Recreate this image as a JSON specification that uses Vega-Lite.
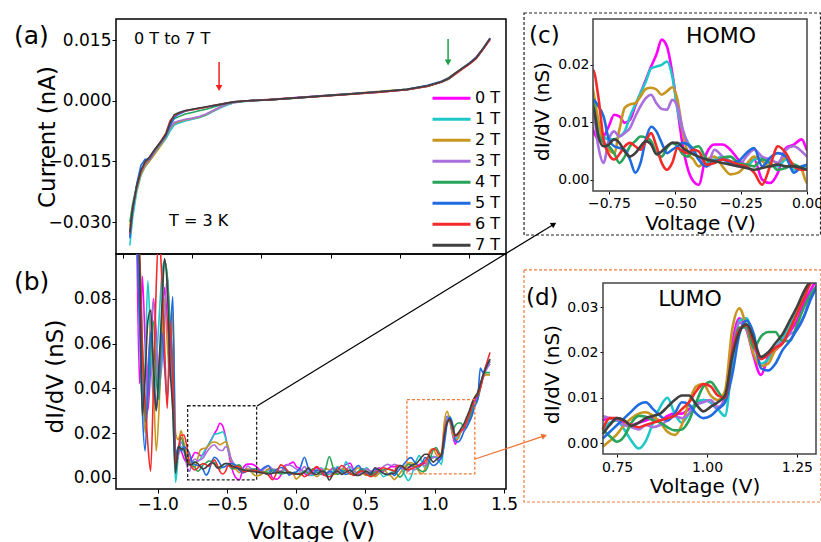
{
"$schema":"https://vega.github.io/schema/vega-lite/v6.json",
"padding":{"left":13,"top":12,"right":0,"bottom":0},
"background":"white",
"config":{
"view":{"stroke":"#000","strokeWidth":1.5},
"font":"DejaVu Sans",
"axis":{"grid":false,"domain":false,"labelFont":"DejaVu Sans","titleFont":"DejaVu Sans","labelColor":"#000","titleColor":"#000","tickColor":"#000","titleFontWeight":"normal","labelFontSize":17,"titleFontSize":23,"tickSize":4,"labelFlush":false,"labelOverlap":false},
"text":{"font":"DejaVu Sans","color":"#000"}
},
"datasets":{
"iv":[
{"v":-1.2,"b":0,"i":-0.0335},{"v":-1.18,"b":0,"i":-0.0275},{"v":-1.15,"b":0,"i":-0.0215},{"v":-1.12,"b":0,"i":-0.0178},{"v":-1.09,"b":0,"i":-0.016},{"v":-1.06,"b":0,"i":-0.0147},{"v":-1.02,"b":0,"i":-0.0128},{"v":-0.98,"b":0,"i":-0.011},{"v":-0.94,"b":0,"i":-0.0092},{"v":-0.91,"b":0,"i":-0.0072},{"v":-0.88,"b":0,"i":-0.0058},{"v":-0.85,"b":0,"i":-0.0054},{"v":-0.8,"b":0,"i":-0.0049},{"v":-0.75,"b":0,"i":-0.0045},{"v":-0.7,"b":0,"i":-0.0041},{"v":-0.65,"b":0,"i":-0.0035},{"v":-0.6,"b":0,"i":-0.0026},{"v":-0.55,"b":0,"i":-0.0017},{"v":-0.5,"b":0,"i":-0.001},{"v":-0.45,"b":0,"i":-0.0005},{"v":-0.35,"b":0,"i":0},{"v":-0.2,"b":0,"i":0.0003},{"v":0,"b":0,"i":0.0008},{"v":0.2,"b":0,"i":0.0013},{"v":0.4,"b":0,"i":0.0017},{"v":0.6,"b":0,"i":0.0021},{"v":0.8,"b":0,"i":0.0027},{"v":0.95,"b":0,"i":0.0036},{"v":1.05,"b":0,"i":0.0046},{"v":1.1,"b":0,"i":0.0054},{"v":1.15,"b":0,"i":0.0067},{"v":1.2,"b":0,"i":0.008},{"v":1.25,"b":0,"i":0.0093},{"v":1.3,"b":0,"i":0.0108},{"v":1.35,"b":0,"i":0.013},{"v":1.4,"b":0,"i":0.0155},
{"v":-1.2,"b":1,"i":-0.0358},{"v":-1.18,"b":1,"i":-0.029},{"v":-1.15,"b":1,"i":-0.0225},{"v":-1.12,"b":1,"i":-0.0185},{"v":-1.09,"b":1,"i":-0.0163},{"v":-1.06,"b":1,"i":-0.015},{"v":-1.02,"b":1,"i":-0.013},{"v":-0.98,"b":1,"i":-0.0112},{"v":-0.94,"b":1,"i":-0.0094},{"v":-0.91,"b":1,"i":-0.0075},{"v":-0.88,"b":1,"i":-0.006},{"v":-0.85,"b":1,"i":-0.0056},{"v":-0.8,"b":1,"i":-0.005},{"v":-0.75,"b":1,"i":-0.0046},{"v":-0.7,"b":1,"i":-0.0042},{"v":-0.65,"b":1,"i":-0.0036},{"v":-0.6,"b":1,"i":-0.0027},{"v":-0.55,"b":1,"i":-0.0018},{"v":-0.5,"b":1,"i":-0.0011},{"v":-0.45,"b":1,"i":-0.0005},{"v":-0.35,"b":1,"i":-0.0001},{"v":-0.2,"b":1,"i":0.0002},{"v":0,"b":1,"i":0.0007},{"v":0.2,"b":1,"i":0.0012},{"v":0.4,"b":1,"i":0.0017},{"v":0.6,"b":1,"i":0.0022},{"v":0.8,"b":1,"i":0.0028},{"v":0.95,"b":1,"i":0.0036},{"v":1.05,"b":1,"i":0.0046},{"v":1.1,"b":1,"i":0.0055},{"v":1.15,"b":1,"i":0.0068},{"v":1.2,"b":1,"i":0.0081},{"v":1.25,"b":1,"i":0.0093},{"v":1.3,"b":1,"i":0.0107},{"v":1.35,"b":1,"i":0.013},{"v":1.4,"b":1,"i":0.0154},
{"v":-1.2,"b":2,"i":-0.031},{"v":-1.18,"b":2,"i":-0.0262},{"v":-1.15,"b":2,"i":-0.0218},{"v":-1.12,"b":2,"i":-0.0182},{"v":-1.09,"b":2,"i":-0.0162},{"v":-1.06,"b":2,"i":-0.015},{"v":-1.02,"b":2,"i":-0.0132},{"v":-0.98,"b":2,"i":-0.0113},{"v":-0.94,"b":2,"i":-0.009},{"v":-0.91,"b":2,"i":-0.0068},{"v":-0.88,"b":2,"i":-0.0056},{"v":-0.85,"b":2,"i":-0.0052},{"v":-0.8,"b":2,"i":-0.0047},{"v":-0.75,"b":2,"i":-0.0044},{"v":-0.7,"b":2,"i":-0.004},{"v":-0.65,"b":2,"i":-0.0034},{"v":-0.6,"b":2,"i":-0.0025},{"v":-0.55,"b":2,"i":-0.0016},{"v":-0.5,"b":2,"i":-0.0009},{"v":-0.45,"b":2,"i":-0.0004},{"v":-0.35,"b":2,"i":0},{"v":-0.2,"b":2,"i":0.0003},{"v":0,"b":2,"i":0.0007},{"v":0.2,"b":2,"i":0.0013},{"v":0.4,"b":2,"i":0.0018},{"v":0.6,"b":2,"i":0.0023},{"v":0.8,"b":2,"i":0.0028},{"v":0.95,"b":2,"i":0.0037},{"v":1.05,"b":2,"i":0.0048},{"v":1.1,"b":2,"i":0.0057},{"v":1.15,"b":2,"i":0.0069},{"v":1.2,"b":2,"i":0.0081},{"v":1.25,"b":2,"i":0.0092},{"v":1.3,"b":2,"i":0.0106},{"v":1.35,"b":2,"i":0.0128},{"v":1.4,"b":2,"i":0.0152},
{"v":-1.2,"b":3,"i":-0.033},{"v":-1.18,"b":3,"i":-0.027},{"v":-1.15,"b":3,"i":-0.0212},{"v":-1.12,"b":3,"i":-0.0177},{"v":-1.09,"b":3,"i":-0.0158},{"v":-1.06,"b":3,"i":-0.0146},{"v":-1.02,"b":3,"i":-0.0127},{"v":-0.98,"b":3,"i":-0.0108},{"v":-0.94,"b":3,"i":-0.0088},{"v":-0.91,"b":3,"i":-0.0066},{"v":-0.88,"b":3,"i":-0.0054},{"v":-0.85,"b":3,"i":-0.005},{"v":-0.8,"b":3,"i":-0.0046},{"v":-0.75,"b":3,"i":-0.0043},{"v":-0.7,"b":3,"i":-0.0039},{"v":-0.65,"b":3,"i":-0.0033},{"v":-0.6,"b":3,"i":-0.0024},{"v":-0.55,"b":3,"i":-0.0016},{"v":-0.5,"b":3,"i":-0.0009},{"v":-0.45,"b":3,"i":-0.0004},{"v":-0.35,"b":3,"i":0},{"v":-0.2,"b":3,"i":0.0002},{"v":0,"b":3,"i":0.0008},{"v":0.2,"b":3,"i":0.0012},{"v":0.4,"b":3,"i":0.0017},{"v":0.6,"b":3,"i":0.0022},{"v":0.8,"b":3,"i":0.0027},{"v":0.95,"b":3,"i":0.0036},{"v":1.05,"b":3,"i":0.0047},{"v":1.1,"b":3,"i":0.0055},{"v":1.15,"b":3,"i":0.0068},{"v":1.2,"b":3,"i":0.008},{"v":1.25,"b":3,"i":0.0092},{"v":1.3,"b":3,"i":0.0106},{"v":1.35,"b":3,"i":0.0129},{"v":1.4,"b":3,"i":0.0153},
{"v":-1.2,"b":4,"i":-0.03},{"v":-1.18,"b":4,"i":-0.0255},{"v":-1.15,"b":4,"i":-0.0208},{"v":-1.12,"b":4,"i":-0.0175},{"v":-1.09,"b":4,"i":-0.0155},{"v":-1.06,"b":4,"i":-0.0143},{"v":-1.02,"b":4,"i":-0.0124},{"v":-0.98,"b":4,"i":-0.0106},{"v":-0.94,"b":4,"i":-0.0085},{"v":-0.91,"b":4,"i":-0.006},{"v":-0.88,"b":4,"i":-0.0045},{"v":-0.85,"b":4,"i":-0.004},{"v":-0.8,"b":4,"i":-0.0033},{"v":-0.75,"b":4,"i":-0.0029},{"v":-0.7,"b":4,"i":-0.0025},{"v":-0.65,"b":4,"i":-0.0021},{"v":-0.6,"b":4,"i":-0.0016},{"v":-0.55,"b":4,"i":-0.0011},{"v":-0.5,"b":4,"i":-0.0007},{"v":-0.45,"b":4,"i":-0.0003},{"v":-0.35,"b":4,"i":0},{"v":-0.2,"b":4,"i":0.0002},{"v":0,"b":4,"i":0.0006},{"v":0.2,"b":4,"i":0.0012},{"v":0.4,"b":4,"i":0.0016},{"v":0.6,"b":4,"i":0.0021},{"v":0.8,"b":4,"i":0.0027},{"v":0.95,"b":4,"i":0.0036},{"v":1.05,"b":4,"i":0.0046},{"v":1.1,"b":4,"i":0.0053},{"v":1.15,"b":4,"i":0.0066},{"v":1.2,"b":4,"i":0.0079},{"v":1.25,"b":4,"i":0.0091},{"v":1.3,"b":4,"i":0.0105},{"v":1.35,"b":4,"i":0.0128},{"v":1.4,"b":4,"i":0.0153},
{"v":-1.2,"b":5,"i":-0.034},{"v":-1.18,"b":5,"i":-0.027},{"v":-1.15,"b":5,"i":-0.0205},{"v":-1.12,"b":5,"i":-0.016},{"v":-1.09,"b":5,"i":-0.0145},{"v":-1.06,"b":5,"i":-0.0145},{"v":-1.02,"b":5,"i":-0.0122},{"v":-0.98,"b":5,"i":-0.0104},{"v":-0.94,"b":5,"i":-0.0086},{"v":-0.91,"b":5,"i":-0.0062},{"v":-0.88,"b":5,"i":-0.0042},{"v":-0.85,"b":5,"i":-0.0034},{"v":-0.8,"b":5,"i":-0.0026},{"v":-0.75,"b":5,"i":-0.0022},{"v":-0.7,"b":5,"i":-0.0019},{"v":-0.65,"b":5,"i":-0.0016},{"v":-0.6,"b":5,"i":-0.0013},{"v":-0.55,"b":5,"i":-0.001},{"v":-0.5,"b":5,"i":-0.0006},{"v":-0.45,"b":5,"i":-0.0003},{"v":-0.35,"b":5,"i":0},{"v":-0.2,"b":5,"i":0.0002},{"v":0,"b":5,"i":0.0007},{"v":0.2,"b":5,"i":0.0012},{"v":0.4,"b":5,"i":0.0017},{"v":0.6,"b":5,"i":0.0022},{"v":0.8,"b":5,"i":0.0028},{"v":0.95,"b":5,"i":0.0038},{"v":1.05,"b":5,"i":0.0048},{"v":1.1,"b":5,"i":0.0056},{"v":1.15,"b":5,"i":0.0068},{"v":1.2,"b":5,"i":0.008},{"v":1.25,"b":5,"i":0.0092},{"v":1.3,"b":5,"i":0.0106},{"v":1.35,"b":5,"i":0.0128},{"v":1.4,"b":5,"i":0.0152},
{"v":-1.2,"b":6,"i":-0.0328},{"v":-1.18,"b":6,"i":-0.0268},{"v":-1.15,"b":6,"i":-0.0212},{"v":-1.12,"b":6,"i":-0.0175},{"v":-1.09,"b":6,"i":-0.0153},{"v":-1.06,"b":6,"i":-0.0141},{"v":-1.02,"b":6,"i":-0.0121},{"v":-0.98,"b":6,"i":-0.0102},{"v":-0.94,"b":6,"i":-0.008},{"v":-0.91,"b":6,"i":-0.005},{"v":-0.88,"b":6,"i":-0.0037},{"v":-0.85,"b":6,"i":-0.0031},{"v":-0.8,"b":6,"i":-0.0025},{"v":-0.75,"b":6,"i":-0.0022},{"v":-0.7,"b":6,"i":-0.0019},{"v":-0.65,"b":6,"i":-0.0016},{"v":-0.6,"b":6,"i":-0.0012},{"v":-0.55,"b":6,"i":-0.0009},{"v":-0.5,"b":6,"i":-0.0006},{"v":-0.45,"b":6,"i":-0.0003},{"v":-0.35,"b":6,"i":0},{"v":-0.2,"b":6,"i":0.0002},{"v":0,"b":6,"i":0.0007},{"v":0.2,"b":6,"i":0.0011},{"v":0.4,"b":6,"i":0.0016},{"v":0.6,"b":6,"i":0.0021},{"v":0.8,"b":6,"i":0.0027},{"v":0.95,"b":6,"i":0.0036},{"v":1.05,"b":6,"i":0.0046},{"v":1.1,"b":6,"i":0.0054},{"v":1.15,"b":6,"i":0.0066},{"v":1.2,"b":6,"i":0.0078},{"v":1.25,"b":6,"i":0.009},{"v":1.3,"b":6,"i":0.0104},{"v":1.35,"b":6,"i":0.0127},{"v":1.4,"b":6,"i":0.0151},
{"v":-1.2,"b":7,"i":-0.0325},{"v":-1.18,"b":7,"i":-0.0265},{"v":-1.15,"b":7,"i":-0.021},{"v":-1.12,"b":7,"i":-0.0172},{"v":-1.09,"b":7,"i":-0.015},{"v":-1.06,"b":7,"i":-0.014},{"v":-1.02,"b":7,"i":-0.012},{"v":-0.98,"b":7,"i":-0.0103},{"v":-0.94,"b":7,"i":-0.0083},{"v":-0.91,"b":7,"i":-0.0055},{"v":-0.88,"b":7,"i":-0.0035},{"v":-0.85,"b":7,"i":-0.003},{"v":-0.8,"b":7,"i":-0.0024},{"v":-0.75,"b":7,"i":-0.0021},{"v":-0.7,"b":7,"i":-0.0018},{"v":-0.65,"b":7,"i":-0.0015},{"v":-0.6,"b":7,"i":-0.0012},{"v":-0.55,"b":7,"i":-0.0009},{"v":-0.5,"b":7,"i":-0.0006},{"v":-0.45,"b":7,"i":-0.0003},{"v":-0.35,"b":7,"i":0},{"v":-0.2,"b":7,"i":0.0002},{"v":0,"b":7,"i":0.0007},{"v":0.2,"b":7,"i":0.0012},{"v":0.4,"b":7,"i":0.0017},{"v":0.6,"b":7,"i":0.0022},{"v":0.8,"b":7,"i":0.0028},{"v":0.95,"b":7,"i":0.0037},{"v":1.05,"b":7,"i":0.0047},{"v":1.1,"b":7,"i":0.0055},{"v":1.15,"b":7,"i":0.0068},{"v":1.2,"b":7,"i":0.008},{"v":1.25,"b":7,"i":0.0092},{"v":1.3,"b":7,"i":0.0106},{"v":1.35,"b":7,"i":0.0129},{"v":1.4,"b":7,"i":0.0154}
],
"g":[
{"v":-1.15,"b":0,"g":0.11},{"v":-1.13,"b":0,"g":0.042},{"v":-1.11,"b":0,"g":0.09},{"v":-1.09,"b":0,"g":0.06},{"v":-1.07,"b":0,"g":0.03},{"v":-1.05,"b":0,"g":0.05},{"v":-1.03,"b":0,"g":0.08},{"v":-1.01,"b":0,"g":0.065},{"v":-0.99,"b":0,"g":0.045},{"v":-0.97,"b":0,"g":0.06},{"v":-0.95,"b":0,"g":0.085},{"v":-0.93,"b":0,"g":0.07},{"v":-0.91,"b":0,"g":0.05},{"v":-0.89,"b":0,"g":0.04},{"v":-0.87,"b":0,"g":0.008},{"v":-0.85,"b":0,"g":0.013},{"v":-0.83,"b":0,"g":0.012},
{"v":-0.81,"b":0,"g":0.0087},{"v":-0.79,"b":0,"g":0.007},{"v":-0.77,"b":0,"g":0.0075},{"v":-0.75,"b":0,"g":0.0093},{"v":-0.73,"b":0,"g":0.0113},{"v":-0.71,"b":0,"g":0.011},{"v":-0.69,"b":0,"g":0.0099},{"v":-0.67,"b":0,"g":0.0104},{"v":-0.65,"b":0,"g":0.0128},{"v":-0.63,"b":0,"g":0.0151},{"v":-0.61,"b":0,"g":0.0174},{"v":-0.59,"b":0,"g":0.0197},{"v":-0.57,"b":0,"g":0.0218},{"v":-0.55,"b":0,"g":0.0244},{"v":-0.53,"b":0,"g":0.0232},{"v":-0.51,"b":0,"g":0.0186},{"v":-0.49,"b":0,"g":0.0122},{"v":-0.47,"b":0,"g":0.0058},{"v":-0.45,"b":0,"g":0.0017},{"v":-0.43,"b":0,"g":-0.0003},{"v":-0.41,"b":0,"g":-0.0009},{"v":-0.38,"b":0,"g":0.0046},{"v":-0.35,"b":0,"g":0.0061},{"v":-0.32,"b":0,"g":0.0061},{"v":-0.29,"b":0,"g":0.0052},{"v":-0.26,"b":0,"g":0.0035},{"v":-0.23,"b":0,"g":0.0026},{"v":-0.2,"b":0,"g":0.0035},{"v":-0.17,"b":0,"g":0},{"v":-0.14,"b":0,"g":-0.0006},{"v":-0.11,"b":0,"g":0.0012},{"v":-0.08,"b":0,"g":0.0055},{"v":-0.05,"b":0,"g":0.0061},{"v":-0.02,"b":0,"g":0.007},{"v":0,"b":0,"g":0.0052},
{"v":0.03,"b":0,"g":0.004},{"v":0.06,"b":0,"g":0.002},{"v":0.09,"b":0,"g":0.001},{"v":0.12,"b":0,"g":0.003},{"v":0.15,"b":0,"g":0.0045},{"v":0.18,"b":0,"g":0.002},{"v":0.21,"b":0,"g":0.001},{"v":0.24,"b":0,"g":0.003},{"v":0.27,"b":0,"g":0.0045},{"v":0.3,"b":0,"g":0.002},{"v":0.33,"b":0,"g":0.0035},{"v":0.36,"b":0,"g":0.006},{"v":0.39,"b":0,"g":0.0065},{"v":0.42,"b":0,"g":0.003},{"v":0.45,"b":0,"g":0.002},{"v":0.48,"b":0,"g":0.004},{"v":0.51,"b":0,"g":0.0025},{"v":0.54,"b":0,"g":0.0015},{"v":0.57,"b":0,"g":0.003},{"v":0.6,"b":0,"g":0.0045},{"v":0.63,"b":0,"g":0.003},{"v":0.66,"b":0,"g":0.004},{"v":0.69,"b":0,"g":0.005},
{"v":0.71,"b":0,"g":0.005},{"v":0.73,"b":0,"g":0.0055},{"v":0.75,"b":0,"g":0.005},{"v":0.77,"b":0,"g":0.0045},{"v":0.79,"b":0,"g":0.004},{"v":0.81,"b":0,"g":0.0045},{"v":0.83,"b":0,"g":0.005},{"v":0.85,"b":0,"g":0.0055},{"v":0.87,"b":0,"g":0.005},{"v":0.89,"b":0,"g":0.006},{"v":0.91,"b":0,"g":0.0065},{"v":0.93,"b":0,"g":0.0065},{"v":0.95,"b":0,"g":0.0075},{"v":0.97,"b":0,"g":0.0085},{"v":0.99,"b":0,"g":0.0095},{"v":1.01,"b":0,"g":0.009},{"v":1.03,"b":0,"g":0.0075},{"v":1.05,"b":0,"g":0.0105},{"v":1.07,"b":0,"g":0.022},{"v":1.09,"b":0,"g":0.0275},{"v":1.11,"b":0,"g":0.025},{"v":1.13,"b":0,"g":0.019},{"v":1.15,"b":0,"g":0.015},{"v":1.17,"b":0,"g":0.019},{"v":1.19,"b":0,"g":0.0205},{"v":1.21,"b":0,"g":0.022},{"v":1.23,"b":0,"g":0.0245},{"v":1.25,"b":0,"g":0.027},{"v":1.27,"b":0,"g":0.031},{"v":1.29,"b":0,"g":0.034},
{"v":1.31,"b":0,"g":0.037},{"v":1.33,"b":0,"g":0.041},{"v":1.35,"b":0,"g":0.046},{"v":1.37,"b":0,"g":0.049},{"v":1.4,"b":0,"g":0.052},
{"v":-1.15,"b":1,"g":0.11},{"v":-1.13,"b":1,"g":0.07},{"v":-1.11,"b":1,"g":0.03},{"v":-1.09,"b":1,"g":0.05},{"v":-1.07,"b":1,"g":0.088},{"v":-1.05,"b":1,"g":0.06},{"v":-1.03,"b":1,"g":0.035},{"v":-1.01,"b":1,"g":0.05},{"v":-0.99,"b":1,"g":0.07},{"v":-0.97,"b":1,"g":0.09},{"v":-0.95,"b":1,"g":0.097},{"v":-0.93,"b":1,"g":0.09},{"v":-0.91,"b":1,"g":0.06},{"v":-0.89,"b":1,"g":0.03},{"v":-0.87,"b":1,"g":-0.002},{"v":-0.85,"b":1,"g":0.01},{"v":-0.83,"b":1,"g":0.014},
{"v":-0.81,"b":1,"g":0.0116},{"v":-0.79,"b":1,"g":0.0093},{"v":-0.77,"b":1,"g":0.0075},{"v":-0.75,"b":1,"g":0.007},{"v":-0.73,"b":1,"g":0.007},{"v":-0.71,"b":1,"g":0.0075},{"v":-0.69,"b":1,"g":0.0084},{"v":-0.67,"b":1,"g":0.011},{"v":-0.65,"b":1,"g":0.0131},{"v":-0.63,"b":1,"g":0.0151},{"v":-0.61,"b":1,"g":0.0171},{"v":-0.59,"b":1,"g":0.0194},{"v":-0.57,"b":1,"g":0.0197},{"v":-0.55,"b":1,"g":0.02},{"v":-0.53,"b":1,"g":0.0206},{"v":-0.51,"b":1,"g":0.018},{"v":-0.49,"b":1,"g":0.0122},{"v":-0.47,"b":1,"g":0.0084},{"v":-0.45,"b":1,"g":0.0064},{"v":-0.43,"b":1,"g":0.0052},{"v":-0.41,"b":1,"g":0.0035},{"v":-0.38,"b":1,"g":0.0029},{"v":-0.35,"b":1,"g":0.0035},{"v":-0.32,"b":1,"g":0.004},{"v":-0.29,"b":1,"g":0.0032},{"v":-0.26,"b":1,"g":0.0029},{"v":-0.23,"b":1,"g":0.0023},{"v":-0.2,"b":1,"g":0.0035},{"v":-0.17,"b":1,"g":0.0038},{"v":-0.14,"b":1,"g":0.0026},{"v":-0.11,"b":1,"g":0.0023},{"v":-0.08,"b":1,"g":0.0035},{"v":-0.05,"b":1,"g":0.0017},{"v":-0.02,"b":1,"g":0.0023},{"v":0,"b":1,"g":0.002},
{"v":0.03,"b":1,"g":0.002},{"v":0.06,"b":1,"g":0.003},{"v":0.09,"b":1,"g":0.0015},{"v":0.12,"b":1,"g":0.001},{"v":0.15,"b":1,"g":0.003},{"v":0.18,"b":1,"g":0.0045},{"v":0.21,"b":1,"g":0.002},{"v":0.24,"b":1,"g":0.0015},{"v":0.27,"b":1,"g":0.003},{"v":0.3,"b":1,"g":0.005},{"v":0.33,"b":1,"g":0.0025},{"v":0.36,"b":1,"g":0.0072},{"v":0.39,"b":1,"g":0.004},{"v":0.42,"b":1,"g":0.002},{"v":0.45,"b":1,"g":0.0015},{"v":0.48,"b":1,"g":0.003},{"v":0.51,"b":1,"g":0.0045},{"v":0.54,"b":1,"g":0.002},{"v":0.57,"b":1,"g":0.001},{"v":0.6,"b":1,"g":0.0025},{"v":0.63,"b":1,"g":0.0005},{"v":0.66,"b":1,"g":0.0015},{"v":0.69,"b":1,"g":0.0025},
{"v":0.71,"b":1,"g":0.003},{"v":0.73,"b":1,"g":0.0045},{"v":0.75,"b":1,"g":0.005},{"v":0.77,"b":1,"g":0.003},{"v":0.79,"b":1,"g":0.0005},{"v":0.81,"b":1,"g":-0.0012},{"v":0.83,"b":1,"g":0.0005},{"v":0.85,"b":1,"g":0.0045},{"v":0.87,"b":1,"g":0.008},{"v":0.89,"b":1,"g":0.01},{"v":0.91,"b":1,"g":0.0065},{"v":0.93,"b":1,"g":0.0045},{"v":0.95,"b":1,"g":0.0065},{"v":0.97,"b":1,"g":0.009},{"v":0.99,"b":1,"g":0.0095},{"v":1.01,"b":1,"g":0.009},{"v":1.03,"b":1,"g":0.0075},{"v":1.05,"b":1,"g":0.006},{"v":1.07,"b":1,"g":0.018},{"v":1.09,"b":1,"g":0.027},{"v":1.11,"b":1,"g":0.0275},{"v":1.13,"b":1,"g":0.022},{"v":1.15,"b":1,"g":0.0175},{"v":1.17,"b":1,"g":0.0185},{"v":1.19,"b":1,"g":0.021},{"v":1.21,"b":1,"g":0.023},{"v":1.23,"b":1,"g":0.026},{"v":1.25,"b":1,"g":0.029},{"v":1.27,"b":1,"g":0.033},{"v":1.29,"b":1,"g":0.036},
{"v":1.31,"b":1,"g":0.038},{"v":1.33,"b":1,"g":0.042},{"v":1.35,"b":1,"g":0.046},{"v":1.37,"b":1,"g":0.049},{"v":1.4,"b":1,"g":0.052},
{"v":-1.15,"b":2,"g":0.11},{"v":-1.13,"b":2,"g":0.09},{"v":-1.11,"b":2,"g":0.05},{"v":-1.09,"b":2,"g":0.02},{"v":-1.07,"b":2,"g":0.04},{"v":-1.05,"b":2,"g":0.07},{"v":-1.03,"b":2,"g":0.045},{"v":-1.01,"b":2,"g":0.012},{"v":-0.99,"b":2,"g":0.03},{"v":-0.97,"b":2,"g":0.06},{"v":-0.95,"b":2,"g":0.08},{"v":-0.93,"b":2,"g":0.06},{"v":-0.91,"b":2,"g":0.045},{"v":-0.89,"b":2,"g":0.074},{"v":-0.87,"b":2,"g":0.02},{"v":-0.85,"b":2,"g":0.017},{"v":-0.83,"b":2,"g":0.021},
{"v":-0.81,"b":2,"g":0.0157},{"v":-0.79,"b":2,"g":0.0104},{"v":-0.77,"b":2,"g":0.0064},{"v":-0.75,"b":2,"g":0.0052},{"v":-0.73,"b":2,"g":0.0046},{"v":-0.71,"b":2,"g":0.0087},{"v":-0.69,"b":2,"g":0.0125},{"v":-0.67,"b":2,"g":0.0131},{"v":-0.65,"b":2,"g":0.0133},{"v":-0.63,"b":2,"g":0.0145},{"v":-0.61,"b":2,"g":0.0158},{"v":-0.59,"b":2,"g":0.016},{"v":-0.57,"b":2,"g":0.0157},{"v":-0.55,"b":2,"g":0.0148},{"v":-0.53,"b":2,"g":0.0154},{"v":-0.51,"b":2,"g":0.0161},{"v":-0.49,"b":2,"g":0.0139},{"v":-0.47,"b":2,"g":0.0081},{"v":-0.45,"b":2,"g":0.0046},{"v":-0.43,"b":2,"g":0.0035},{"v":-0.41,"b":2,"g":0.0023},{"v":-0.38,"b":2,"g":0.0035},{"v":-0.35,"b":2,"g":0.004},{"v":-0.32,"b":2,"g":0.0023},{"v":-0.29,"b":2,"g":0.0009},{"v":-0.26,"b":2,"g":0.0012},{"v":-0.23,"b":2,"g":0.0026},{"v":-0.2,"b":2,"g":0.004},{"v":-0.17,"b":2,"g":0.0032},{"v":-0.14,"b":2,"g":0.0023},{"v":-0.11,"b":2,"g":0.0029},{"v":-0.08,"b":2,"g":0.0038},{"v":-0.05,"b":2,"g":0.0026},{"v":-0.02,"b":2,"g":0.0017},{"v":0,"b":2,"g":-0.0006},
{"v":0.03,"b":2,"g":0.001},{"v":0.06,"b":2,"g":0.0025},{"v":0.09,"b":2,"g":0.004},{"v":0.12,"b":2,"g":0.002},{"v":0.15,"b":2,"g":0.0005},{"v":0.18,"b":2,"g":0.0025},{"v":0.21,"b":2,"g":0.004},{"v":0.24,"b":2,"g":0.0035},{"v":0.27,"b":2,"g":0.0015},{"v":0.3,"b":2,"g":0.002},{"v":0.33,"b":2,"g":0.004},{"v":0.36,"b":2,"g":0.003},{"v":0.39,"b":2,"g":0.0015},{"v":0.42,"b":2,"g":0.003},{"v":0.45,"b":2,"g":0.0045},{"v":0.48,"b":2,"g":0.002},{"v":0.51,"b":2,"g":0.001},{"v":0.54,"b":2,"g":0.003},{"v":0.57,"b":2,"g":0.0005},{"v":0.6,"b":2,"g":0.002},{"v":0.63,"b":2,"g":0.0035},{"v":0.66,"b":2,"g":0.002},{"v":0.69,"b":2,"g":0.0005},
{"v":0.71,"b":2,"g":-0.0008},{"v":0.73,"b":2,"g":0.0005},{"v":0.75,"b":2,"g":0.002},{"v":0.77,"b":2,"g":0.004},{"v":0.79,"b":2,"g":0.0055},{"v":0.81,"b":2,"g":0.0065},{"v":0.83,"b":2,"g":0.0068},{"v":0.85,"b":2,"g":0.006},{"v":0.87,"b":2,"g":0.0045},{"v":0.89,"b":2,"g":0.0025},{"v":0.91,"b":2,"g":0.0018},{"v":0.93,"b":2,"g":0.004},{"v":0.95,"b":2,"g":0.009},{"v":0.97,"b":2,"g":0.0125},{"v":0.99,"b":2,"g":0.013},{"v":1.01,"b":2,"g":0.0105},{"v":1.03,"b":2,"g":0.0095},{"v":1.05,"b":2,"g":0.0115},{"v":1.07,"b":2,"g":0.025},{"v":1.09,"b":2,"g":0.0297},{"v":1.11,"b":2,"g":0.0255},{"v":1.13,"b":2,"g":0.0195},{"v":1.15,"b":2,"g":0.017},{"v":1.17,"b":2,"g":0.0175},{"v":1.19,"b":2,"g":0.0205},{"v":1.21,"b":2,"g":0.022},{"v":1.23,"b":2,"g":0.025},{"v":1.25,"b":2,"g":0.0285},{"v":1.27,"b":2,"g":0.0335},{"v":1.29,"b":2,"g":0.036},
{"v":1.31,"b":2,"g":0.038},{"v":1.33,"b":2,"g":0.042},{"v":1.35,"b":2,"g":0.045},{"v":1.37,"b":2,"g":0.046},{"v":1.4,"b":2,"g":0.046},
{"v":-1.15,"b":3,"g":0.11},{"v":-1.13,"b":3,"g":0.08},{"v":-1.11,"b":3,"g":0.04},{"v":-1.09,"b":3,"g":0.03},{"v":-1.07,"b":3,"g":0.05},{"v":-1.05,"b":3,"g":0.065},{"v":-1.03,"b":3,"g":0.079},{"v":-1.01,"b":3,"g":0.06},{"v":-0.99,"b":3,"g":0.04},{"v":-0.97,"b":3,"g":0.05},{"v":-0.95,"b":3,"g":0.07},{"v":-0.93,"b":3,"g":0.09},{"v":-0.91,"b":3,"g":0.065},{"v":-0.89,"b":3,"g":0.04},{"v":-0.87,"b":3,"g":0.006},{"v":-0.85,"b":3,"g":0.01},{"v":-0.83,"b":3,"g":0.016},
{"v":-0.81,"b":3,"g":0.0128},{"v":-0.79,"b":3,"g":0.0058},{"v":-0.77,"b":3,"g":0.0029},{"v":-0.75,"b":3,"g":0.007},{"v":-0.73,"b":3,"g":0.0084},{"v":-0.71,"b":3,"g":0.0075},{"v":-0.69,"b":3,"g":0.0081},{"v":-0.67,"b":3,"g":0.009},{"v":-0.65,"b":3,"g":0.011},{"v":-0.63,"b":3,"g":0.0128},{"v":-0.61,"b":3,"g":0.0142},{"v":-0.59,"b":3,"g":0.0148},{"v":-0.57,"b":3,"g":0.0133},{"v":-0.55,"b":3,"g":0.0123},{"v":-0.53,"b":3,"g":0.0122},{"v":-0.51,"b":3,"g":0.0139},{"v":-0.49,"b":3,"g":0.0128},{"v":-0.47,"b":3,"g":0.0087},{"v":-0.45,"b":3,"g":0.0061},{"v":-0.43,"b":3,"g":0.0046},{"v":-0.41,"b":3,"g":0.0038},{"v":-0.38,"b":3,"g":0.0023},{"v":-0.35,"b":3,"g":0.0052},{"v":-0.32,"b":3,"g":0.004},{"v":-0.29,"b":3,"g":0.0029},{"v":-0.26,"b":3,"g":0.0023},{"v":-0.23,"b":3,"g":0.004},{"v":-0.2,"b":3,"g":0.0052},{"v":-0.17,"b":3,"g":0.004},{"v":-0.14,"b":3,"g":0.0035},{"v":-0.11,"b":3,"g":0.0029},{"v":-0.08,"b":3,"g":0.0052},{"v":-0.05,"b":3,"g":0.0058},{"v":-0.02,"b":3,"g":0.0049},{"v":0,"b":3,"g":0.004},
{"v":0.03,"b":3,"g":0.003},{"v":0.06,"b":3,"g":0.005},{"v":0.09,"b":3,"g":0.0025},{"v":0.12,"b":3,"g":0.0015},{"v":0.15,"b":3,"g":0.003},{"v":0.18,"b":3,"g":0.004},{"v":0.21,"b":3,"g":0.0025},{"v":0.24,"b":3,"g":0.002},{"v":0.27,"b":3,"g":0.0045},{"v":0.3,"b":3,"g":0.003},{"v":0.33,"b":3,"g":0.002},{"v":0.36,"b":3,"g":0.0035},{"v":0.39,"b":3,"g":0.005},{"v":0.42,"b":3,"g":0.003},{"v":0.45,"b":3,"g":0.0015},{"v":0.48,"b":3,"g":0.0025},{"v":0.51,"b":3,"g":0.004},{"v":0.54,"b":3,"g":0.003},{"v":0.57,"b":3,"g":0.002},{"v":0.6,"b":3,"g":0.0035},{"v":0.63,"b":3,"g":0.005},{"v":0.66,"b":3,"g":0.006},{"v":0.69,"b":3,"g":0.0055},
{"v":0.71,"b":3,"g":0.006},{"v":0.73,"b":3,"g":0.0055},{"v":0.75,"b":3,"g":0.005},{"v":0.77,"b":3,"g":0.004},{"v":0.79,"b":3,"g":0.0035},{"v":0.81,"b":3,"g":0.003},{"v":0.83,"b":3,"g":0.004},{"v":0.85,"b":3,"g":0.0035},{"v":0.87,"b":3,"g":0.004},{"v":0.89,"b":3,"g":0.005},{"v":0.91,"b":3,"g":0.006},{"v":0.93,"b":3,"g":0.0055},{"v":0.95,"b":3,"g":0.0065},{"v":0.97,"b":3,"g":0.0085},{"v":0.99,"b":3,"g":0.009},{"v":1.01,"b":3,"g":0.0095},{"v":1.03,"b":3,"g":0.008},{"v":1.05,"b":3,"g":0.0095},{"v":1.07,"b":3,"g":0.02},{"v":1.09,"b":3,"g":0.0265},{"v":1.11,"b":3,"g":0.0255},{"v":1.13,"b":3,"g":0.021},{"v":1.15,"b":3,"g":0.019},{"v":1.17,"b":3,"g":0.02},{"v":1.19,"b":3,"g":0.021},{"v":1.21,"b":3,"g":0.0225},{"v":1.23,"b":3,"g":0.024},{"v":1.25,"b":3,"g":0.025},{"v":1.27,"b":3,"g":0.028},{"v":1.29,"b":3,"g":0.033},
{"v":1.31,"b":3,"g":0.035},{"v":1.33,"b":3,"g":0.04},{"v":1.35,"b":3,"g":0.045},{"v":1.37,"b":3,"g":0.048},{"v":1.4,"b":3,"g":0.051},
{"v":-1.15,"b":4,"g":0.11},{"v":-1.13,"b":4,"g":0.1},{"v":-1.11,"b":4,"g":0.06},{"v":-1.09,"b":4,"g":0.025},{"v":-1.07,"b":4,"g":0.035},{"v":-1.05,"b":4,"g":0.06},{"v":-1.03,"b":4,"g":0.07},{"v":-1.01,"b":4,"g":0.045},{"v":-0.99,"b":4,"g":0.035},{"v":-0.97,"b":4,"g":0.07},{"v":-0.95,"b":4,"g":0.097},{"v":-0.93,"b":4,"g":0.09},{"v":-0.91,"b":4,"g":0.07},{"v":-0.89,"b":4,"g":0.05},{"v":-0.87,"b":4,"g":0.005},{"v":-0.85,"b":4,"g":0.012},{"v":-0.83,"b":4,"g":0.018},
{"v":-0.81,"b":4,"g":0.0139},{"v":-0.79,"b":4,"g":0.0081},{"v":-0.77,"b":4,"g":0.0064},{"v":-0.75,"b":4,"g":0.0058},{"v":-0.73,"b":4,"g":0.0046},{"v":-0.71,"b":4,"g":0.0029},{"v":-0.69,"b":4,"g":0.004},{"v":-0.67,"b":4,"g":0.0058},{"v":-0.65,"b":4,"g":0.0067},{"v":-0.63,"b":4,"g":0.0075},{"v":-0.61,"b":4,"g":0.0073},{"v":-0.59,"b":4,"g":0.0067},{"v":-0.57,"b":4,"g":0.0046},{"v":-0.55,"b":4,"g":0.004},{"v":-0.53,"b":4,"g":0.0055},{"v":-0.51,"b":4,"g":0.0064},{"v":-0.49,"b":4,"g":0.0058},{"v":-0.47,"b":4,"g":0.0044},{"v":-0.45,"b":4,"g":0.004},{"v":-0.43,"b":4,"g":0.0055},{"v":-0.41,"b":4,"g":0.0058},{"v":-0.38,"b":4,"g":0.0035},{"v":-0.35,"b":4,"g":0.0029},{"v":-0.32,"b":4,"g":0.0038},{"v":-0.29,"b":4,"g":0.004},{"v":-0.26,"b":4,"g":0.0029},{"v":-0.23,"b":4,"g":0.0026},{"v":-0.2,"b":4,"g":0.0023},{"v":-0.17,"b":4,"g":0.0035},{"v":-0.14,"b":4,"g":0.0029},{"v":-0.11,"b":4,"g":0.0017},{"v":-0.08,"b":4,"g":0.002},{"v":-0.05,"b":4,"g":0.0026},{"v":-0.02,"b":4,"g":0.002},{"v":0,"b":4,"g":0.0017},
{"v":0.03,"b":4,"g":0.0015},{"v":0.06,"b":4,"g":0.003},{"v":0.09,"b":4,"g":0.002},{"v":0.12,"b":4,"g":0.004},{"v":0.15,"b":4,"g":0.0025},{"v":0.18,"b":4,"g":0.0015},{"v":0.21,"b":4,"g":0.0035},{"v":0.24,"b":4,"g":0.0095},{"v":0.27,"b":4,"g":0.004},{"v":0.3,"b":4,"g":0.0015},{"v":0.33,"b":4,"g":0.0025},{"v":0.36,"b":4,"g":0.0035},{"v":0.39,"b":4,"g":0.002},{"v":0.42,"b":4,"g":0.0015},{"v":0.45,"b":4,"g":0.003},{"v":0.48,"b":4,"g":0.004},{"v":0.51,"b":4,"g":0.002},{"v":0.54,"b":4,"g":0.001},{"v":0.57,"b":4,"g":0.0025},{"v":0.6,"b":4,"g":0.003},{"v":0.63,"b":4,"g":0.0035},{"v":0.66,"b":4,"g":0.004},{"v":0.69,"b":4,"g":0.0035},
{"v":0.71,"b":4,"g":0.003},{"v":0.73,"b":4,"g":0.0015},{"v":0.75,"b":4,"g":0.0003},{"v":0.77,"b":4,"g":0.0015},{"v":0.79,"b":4,"g":0.0045},{"v":0.81,"b":4,"g":0.006},{"v":0.83,"b":4,"g":0.0058},{"v":0.85,"b":4,"g":0.005},{"v":0.87,"b":4,"g":0.0045},{"v":0.89,"b":4,"g":0.0035},{"v":0.91,"b":4,"g":0.0028},{"v":0.93,"b":4,"g":0.003},{"v":0.95,"b":4,"g":0.005},{"v":0.97,"b":4,"g":0.009},{"v":0.99,"b":4,"g":0.0125},{"v":1.01,"b":4,"g":0.0135},{"v":1.03,"b":4,"g":0.0115},{"v":1.05,"b":4,"g":0.0095},{"v":1.07,"b":4,"g":0.019},{"v":1.09,"b":4,"g":0.0255},{"v":1.11,"b":4,"g":0.0255},{"v":1.13,"b":4,"g":0.021},{"v":1.15,"b":4,"g":0.0235},{"v":1.17,"b":4,"g":0.0245},{"v":1.19,"b":4,"g":0.0245},{"v":1.21,"b":4,"g":0.0225},{"v":1.23,"b":4,"g":0.0225},{"v":1.25,"b":4,"g":0.026},{"v":1.27,"b":4,"g":0.03},{"v":1.29,"b":4,"g":0.033},
{"v":1.31,"b":4,"g":0.035},{"v":1.33,"b":4,"g":0.04},{"v":1.35,"b":4,"g":0.045},{"v":1.37,"b":4,"g":0.047},{"v":1.4,"b":4,"g":0.047},
{"v":-1.15,"b":5,"g":0.11},{"v":-1.13,"b":5,"g":0.07},{"v":-1.11,"b":5,"g":0.03},{"v":-1.09,"b":5,"g":0.012},{"v":-1.07,"b":5,"g":0.04},{"v":-1.05,"b":5,"g":0.065},{"v":-1.03,"b":5,"g":0.05},{"v":-1.01,"b":5,"g":0.03},{"v":-0.99,"b":5,"g":0.045},{"v":-0.97,"b":5,"g":0.065},{"v":-0.95,"b":5,"g":0.05},{"v":-0.93,"b":5,"g":0.035},{"v":-0.91,"b":5,"g":0.06},{"v":-0.89,"b":5,"g":0.081},{"v":-0.87,"b":5,"g":0.01},{"v":-0.85,"b":5,"g":0.014},{"v":-0.83,"b":5,"g":0.012},
{"v":-0.81,"b":5,"g":0.0139},{"v":-0.79,"b":5,"g":0.0128},{"v":-0.77,"b":5,"g":0.011},{"v":-0.75,"b":5,"g":0.007},{"v":-0.73,"b":5,"g":0.0058},{"v":-0.71,"b":5,"g":0.0055},{"v":-0.69,"b":5,"g":0.0052},{"v":-0.67,"b":5,"g":0.0035},{"v":-0.65,"b":5,"g":0.0012},{"v":-0.63,"b":5,"g":0.0029},{"v":-0.61,"b":5,"g":0.007},{"v":-0.59,"b":5,"g":0.0092},{"v":-0.57,"b":5,"g":0.0084},{"v":-0.55,"b":5,"g":0.0064},{"v":-0.53,"b":5,"g":0.0046},{"v":-0.51,"b":5,"g":0.0052},{"v":-0.49,"b":5,"g":0.0058},{"v":-0.47,"b":5,"g":0.0064},{"v":-0.45,"b":5,"g":0.0061},{"v":-0.43,"b":5,"g":0.0052},{"v":-0.41,"b":5,"g":0.0035},{"v":-0.38,"b":5,"g":0.0023},{"v":-0.35,"b":5,"g":0.0032},{"v":-0.32,"b":5,"g":0.0035},{"v":-0.29,"b":5,"g":0.0029},{"v":-0.26,"b":5,"g":0.0032},{"v":-0.23,"b":5,"g":0.0046},{"v":-0.2,"b":5,"g":0.0055},{"v":-0.17,"b":5,"g":0.0023},{"v":-0.14,"b":5,"g":0.0038},{"v":-0.11,"b":5,"g":0.0046},{"v":-0.08,"b":5,"g":0.004},{"v":-0.05,"b":5,"g":0.0012},{"v":-0.02,"b":5,"g":0.0023},{"v":0,"b":5,"g":0.0026},
{"v":0.03,"b":5,"g":0.0045},{"v":0.06,"b":5,"g":0.0092},{"v":0.09,"b":5,"g":0.004},{"v":0.12,"b":5,"g":0.002},{"v":0.15,"b":5,"g":0.0035},{"v":0.18,"b":5,"g":0.0025},{"v":0.21,"b":5,"g":0.0015},{"v":0.24,"b":5,"g":0.003},{"v":0.27,"b":5,"g":0.002},{"v":0.3,"b":5,"g":0.0045},{"v":0.33,"b":5,"g":0.003},{"v":0.36,"b":5,"g":0.0015},{"v":0.39,"b":5,"g":0.0025},{"v":0.42,"b":5,"g":0.004},{"v":0.45,"b":5,"g":0.0055},{"v":0.48,"b":5,"g":0.003},{"v":0.51,"b":5,"g":0.0015},{"v":0.54,"b":5,"g":0.0025},{"v":0.57,"b":5,"g":0.004},{"v":0.6,"b":5,"g":0.003},{"v":0.63,"b":5,"g":0.002},{"v":0.66,"b":5,"g":0.0015},{"v":0.69,"b":5,"g":0.002},
{"v":0.71,"b":5,"g":0.001},{"v":0.73,"b":5,"g":0.0025},{"v":0.75,"b":5,"g":0.004},{"v":0.77,"b":5,"g":0.0055},{"v":0.79,"b":5,"g":0.007},{"v":0.81,"b":5,"g":0.0085},{"v":0.83,"b":5,"g":0.009},{"v":0.85,"b":5,"g":0.0075},{"v":0.87,"b":5,"g":0.006},{"v":0.89,"b":5,"g":0.005},{"v":0.91,"b":5,"g":0.0065},{"v":0.93,"b":5,"g":0.009},{"v":0.95,"b":5,"g":0.0085},{"v":0.97,"b":5,"g":0.0065},{"v":0.99,"b":5,"g":0.0055},{"v":1.01,"b":5,"g":0.006},{"v":1.03,"b":5,"g":0.0075},{"v":1.05,"b":5,"g":0.009},{"v":1.07,"b":5,"g":0.015},{"v":1.09,"b":5,"g":0.024},{"v":1.11,"b":5,"g":0.027},{"v":1.13,"b":5,"g":0.024},{"v":1.15,"b":5,"g":0.0165},{"v":1.17,"b":5,"g":0.016},{"v":1.19,"b":5,"g":0.0175},{"v":1.21,"b":5,"g":0.0205},{"v":1.23,"b":5,"g":0.0225},{"v":1.25,"b":5,"g":0.025},{"v":1.27,"b":5,"g":0.028},{"v":1.29,"b":5,"g":0.032},
{"v":1.31,"b":5,"g":0.035},{"v":1.33,"b":5,"g":0.049},{"v":1.35,"b":5,"g":0.047},{"v":1.37,"b":5,"g":0.05},{"v":1.4,"b":5,"g":0.053},
{"v":-1.15,"b":6,"g":0.11},{"v":-1.13,"b":6,"g":0.1},{"v":-1.11,"b":6,"g":0.06},{"v":-1.09,"b":6,"g":0.035},{"v":-1.07,"b":6,"g":0.015},{"v":-1.05,"b":6,"g":0.003},{"v":-1.03,"b":6,"g":0.04},{"v":-1.01,"b":6,"g":0.085},{"v":-0.99,"b":6,"g":0.11},{"v":-0.97,"b":6,"g":0.09},{"v":-0.95,"b":6,"g":0.06},{"v":-0.93,"b":6,"g":0.031},{"v":-0.91,"b":6,"g":0.07},{"v":-0.89,"b":6,"g":0.045},{"v":-0.87,"b":6,"g":0.006},{"v":-0.85,"b":6,"g":0.013},{"v":-0.83,"b":6,"g":0.019},
{"v":-0.81,"b":6,"g":0.0191},{"v":-0.79,"b":6,"g":0.0145},{"v":-0.77,"b":6,"g":0.007},{"v":-0.75,"b":6,"g":0.0044},{"v":-0.73,"b":6,"g":0.0035},{"v":-0.71,"b":6,"g":0.0044},{"v":-0.69,"b":6,"g":0.0058},{"v":-0.67,"b":6,"g":0.0064},{"v":-0.65,"b":6,"g":0.0058},{"v":-0.63,"b":6,"g":0.0052},{"v":-0.61,"b":6,"g":0.0067},{"v":-0.59,"b":6,"g":0.0081},{"v":-0.57,"b":6,"g":0.0058},{"v":-0.55,"b":6,"g":0.0029},{"v":-0.53,"b":6,"g":0.0017},{"v":-0.51,"b":6,"g":0.0029},{"v":-0.49,"b":6,"g":0.0055},{"v":-0.47,"b":6,"g":0.0049},{"v":-0.45,"b":6,"g":0.0046},{"v":-0.43,"b":6,"g":0.0052},{"v":-0.41,"b":6,"g":0.0049},{"v":-0.38,"b":6,"g":0.0026},{"v":-0.35,"b":6,"g":0.0029},{"v":-0.32,"b":6,"g":0.0035},{"v":-0.29,"b":6,"g":0.0032},{"v":-0.26,"b":6,"g":0.0026},{"v":-0.23,"b":6,"g":0.0023},{"v":-0.2,"b":6,"g":0.0012},{"v":-0.17,"b":6,"g":-0.0009},{"v":-0.14,"b":6,"g":0.0023},{"v":-0.11,"b":6,"g":0.0058},{"v":-0.08,"b":6,"g":0.0046},{"v":-0.05,"b":6,"g":0.0023},{"v":-0.02,"b":6,"g":0.0017},{"v":0,"b":6,"g":0.0017},
{"v":0.03,"b":6,"g":0.002},{"v":0.06,"b":6,"g":0.0005},{"v":0.09,"b":6,"g":0.0015},{"v":0.12,"b":6,"g":0.0035},{"v":0.15,"b":6,"g":0.005},{"v":0.18,"b":6,"g":0.003},{"v":0.21,"b":6,"g":0.001},{"v":0.24,"b":6,"g":0.0005},{"v":0.27,"b":6,"g":0.002},{"v":0.3,"b":6,"g":0.0035},{"v":0.33,"b":6,"g":0.0055},{"v":0.36,"b":6,"g":0.004},{"v":0.39,"b":6,"g":0.002},{"v":0.42,"b":6,"g":0.001},{"v":0.45,"b":6,"g":0.0025},{"v":0.48,"b":6,"g":0.003},{"v":0.51,"b":6,"g":0.0015},{"v":0.54,"b":6,"g":0.0005},{"v":0.57,"b":6,"g":0.0015},{"v":0.6,"b":6,"g":0.0035},{"v":0.63,"b":6,"g":0.0045},{"v":0.66,"b":6,"g":0.004},{"v":0.69,"b":6,"g":0.0035},
{"v":0.71,"b":6,"g":0.003},{"v":0.73,"b":6,"g":0.0055},{"v":0.75,"b":6,"g":0.0055},{"v":0.77,"b":6,"g":0.0048},{"v":0.79,"b":6,"g":0.004},{"v":0.81,"b":6,"g":0.0035},{"v":0.83,"b":6,"g":0.004},{"v":0.85,"b":6,"g":0.0045},{"v":0.87,"b":6,"g":0.005},{"v":0.89,"b":6,"g":0.0055},{"v":0.91,"b":6,"g":0.006},{"v":0.93,"b":6,"g":0.0075},{"v":0.95,"b":6,"g":0.009},{"v":0.97,"b":6,"g":0.0115},{"v":0.99,"b":6,"g":0.013},{"v":1.01,"b":6,"g":0.0125},{"v":1.03,"b":6,"g":0.0105},{"v":1.05,"b":6,"g":0.01},{"v":1.07,"b":6,"g":0.02},{"v":1.09,"b":6,"g":0.025},{"v":1.11,"b":6,"g":0.026},{"v":1.13,"b":6,"g":0.022},{"v":1.15,"b":6,"g":0.0185},{"v":1.17,"b":6,"g":0.0195},{"v":1.19,"b":6,"g":0.021},{"v":1.21,"b":6,"g":0.022},{"v":1.23,"b":6,"g":0.025},{"v":1.25,"b":6,"g":0.0285},{"v":1.27,"b":6,"g":0.032},{"v":1.29,"b":6,"g":0.0355},
{"v":1.31,"b":6,"g":0.037},{"v":1.33,"b":6,"g":0.04},{"v":1.35,"b":6,"g":0.045},{"v":1.37,"b":6,"g":0.05},{"v":1.4,"b":6,"g":0.056},
{"v":-1.15,"b":7,"g":0.11},{"v":-1.13,"b":7,"g":0.095},{"v":-1.11,"b":7,"g":0.028},{"v":-1.09,"b":7,"g":0.045},{"v":-1.07,"b":7,"g":0.07},{"v":-1.05,"b":7,"g":0.075},{"v":-1.03,"b":7,"g":0.05},{"v":-1.01,"b":7,"g":0.03},{"v":-0.99,"b":7,"g":0.05},{"v":-0.97,"b":7,"g":0.075},{"v":-0.95,"b":7,"g":0.098},{"v":-0.93,"b":7,"g":0.085},{"v":-0.91,"b":7,"g":0.05},{"v":-0.89,"b":7,"g":0.03},{"v":-0.87,"b":7,"g":0.002},{"v":-0.85,"b":7,"g":0.014},{"v":-0.83,"b":7,"g":0.013},
{"v":-0.81,"b":7,"g":0.0128},{"v":-0.79,"b":7,"g":0.0075},{"v":-0.77,"b":7,"g":0.0058},{"v":-0.75,"b":7,"g":0.0061},{"v":-0.73,"b":7,"g":0.007},{"v":-0.71,"b":7,"g":0.0064},{"v":-0.69,"b":7,"g":0.0049},{"v":-0.67,"b":7,"g":0.004},{"v":-0.65,"b":7,"g":0.0046},{"v":-0.63,"b":7,"g":0.0058},{"v":-0.61,"b":7,"g":0.0067},{"v":-0.59,"b":7,"g":0.0061},{"v":-0.57,"b":7,"g":0.0044},{"v":-0.55,"b":7,"g":0.0049},{"v":-0.53,"b":7,"g":0.0058},{"v":-0.51,"b":7,"g":0.0064},{"v":-0.49,"b":7,"g":0.0064},{"v":-0.47,"b":7,"g":0.0055},{"v":-0.45,"b":7,"g":0.0049},{"v":-0.43,"b":7,"g":0.0044},{"v":-0.41,"b":7,"g":0.004},{"v":-0.38,"b":7,"g":0.0035},{"v":-0.35,"b":7,"g":0.0032},{"v":-0.32,"b":7,"g":0.0029},{"v":-0.29,"b":7,"g":0.0026},{"v":-0.26,"b":7,"g":0.0023},{"v":-0.23,"b":7,"g":0.002},{"v":-0.2,"b":7,"g":0.0017},{"v":-0.17,"b":7,"g":0.002},{"v":-0.14,"b":7,"g":0.0023},{"v":-0.11,"b":7,"g":0.0026},{"v":-0.08,"b":7,"g":0.0023},{"v":-0.05,"b":7,"g":0.0023},{"v":-0.02,"b":7,"g":0.002},{"v":0,"b":7,"g":0.0017},
{"v":0.03,"b":7,"g":0.0015},{"v":0.06,"b":7,"g":0.0025},{"v":0.09,"b":7,"g":0.0045},{"v":0.12,"b":7,"g":0.002},{"v":0.15,"b":7,"g":0.0015},{"v":0.18,"b":7,"g":0.003},{"v":0.21,"b":7,"g":0.0025},{"v":0.24,"b":7,"g":-0.001},{"v":0.27,"b":7,"g":0.002},{"v":0.3,"b":7,"g":0.003},{"v":0.33,"b":7,"g":0.0015},{"v":0.36,"b":7,"g":0.0025},{"v":0.39,"b":7,"g":0.0035},{"v":0.42,"b":7,"g":0.0015},{"v":0.45,"b":7,"g":0.001},{"v":0.48,"b":7,"g":0.002},{"v":0.51,"b":7,"g":0.003},{"v":0.54,"b":7,"g":0.0015},{"v":0.57,"b":7,"g":0.0045},{"v":0.6,"b":7,"g":0.0035},{"v":0.63,"b":7,"g":0.002},{"v":0.66,"b":7,"g":0.0015},{"v":0.69,"b":7,"g":0.002},
{"v":0.71,"b":7,"g":0.002},{"v":0.73,"b":7,"g":0.004},{"v":0.75,"b":7,"g":0.0055},{"v":0.77,"b":7,"g":0.005},{"v":0.79,"b":7,"g":0.0038},{"v":0.81,"b":7,"g":0.0045},{"v":0.83,"b":7,"g":0.0055},{"v":0.85,"b":7,"g":0.006},{"v":0.87,"b":7,"g":0.0065},{"v":0.89,"b":7,"g":0.008},{"v":0.91,"b":7,"g":0.0095},{"v":0.93,"b":7,"g":0.0105},{"v":0.95,"b":7,"g":0.0105},{"v":0.97,"b":7,"g":0.0085},{"v":0.99,"b":7,"g":0.007},{"v":1.01,"b":7,"g":0.008},{"v":1.03,"b":7,"g":0.009},{"v":1.05,"b":7,"g":0.0105},{"v":1.07,"b":7,"g":0.019},{"v":1.09,"b":7,"g":0.0245},{"v":1.11,"b":7,"g":0.0262},{"v":1.13,"b":7,"g":0.023},{"v":1.15,"b":7,"g":0.019},{"v":1.17,"b":7,"g":0.02},{"v":1.19,"b":7,"g":0.022},{"v":1.21,"b":7,"g":0.024},{"v":1.23,"b":7,"g":0.027},{"v":1.25,"b":7,"g":0.03},{"v":1.27,"b":7,"g":0.0335},{"v":1.29,"b":7,"g":0.036},
{"v":1.31,"b":7,"g":0.038},{"v":1.33,"b":7,"g":0.042},{"v":1.35,"b":7,"g":0.046},{"v":1.37,"b":7,"g":0.049},{"v":1.4,"b":7,"g":0.053}
]
},
"columns":2,
"bounds":"flush",
"align":"none",
"spacing":{"row":0,"column":87},
"resolve":{"legend":{"color":"independent"}},
"concat":[
{"width":390,"height":235,
"layer":[
{"data":{"name":"iv"},"mark":{"type":"line","strokeWidth":1.6,"clip":true},
"encoding":{
"x":{"field":"v","type":"quantitative","scale":{"domain":[-1.3,1.515],"nice":false,"zero":false},"axis":{"labels":false,"title":null,"values":[-1.25,-1,-0.75,-0.5,-0.25,0,0.25,0.5,0.75,1,1.25,1.5],"tickSize":4}},
"y":{"field":"i","type":"quantitative","scale":{"domain":[-0.0379,0.0202],"nice":false,"zero":false},"axis":{"values":[-0.03,-0.015,0,0.015],"format":".3f","title":"Current (nA)","tickSize":4,"labelPadding":1,"titleX":-57}},
"color":{"field":"b","type":"nominal","scale":{"domain":[0,1,2,3,4,5,6,7],"range":["#ff00ff","#1ec8c8","#c8961e","#a96fdc","#27a35a","#1f6be0","#f42a2a","#404040"]},
"legend":{"orient":"none","legendX":315,"legendY":69,"title":null,"symbolType":"stroke","symbolSize":1444,"symbolStrokeWidth":3,"labelFontSize":16,"labelFont":"DejaVu Sans","labelColor":"#000","clipHeight":20.6,"rowPadding":0,"padding":0,"labelOffset":3,"labelExpr":"datum.label + ' T'"}}
}},
{"data":{"values":[{"x":-1.17,"y":0.01525,"t":"0 T to 7 T"},{"x":-0.917,"y":-0.0298,"t":"T = 3 K"}]},"mark":{"type":"text","align":"left","baseline":"middle","fontSize":16},
"encoding":{"x":{"field":"x","type":"quantitative"},"y":{"field":"y","type":"quantitative"},"text":{"field":"t"}}},
{"data":{"values":[{"x":-2.0365,"y":0.016,"t":"(a)"}]},"mark":{"type":"text","align":"left","baseline":"middle","fontSize":25},
"encoding":{"x":{"field":"x","type":"quantitative"},"y":{"field":"y","type":"quantitative"},"text":{"field":"t"}}},
{"data":{"values":[{"x":-0.556,"y":0.00957,"y2":0.00314}]},"mark":{"type":"rule","color":"#f02020","strokeWidth":1.5},
"encoding":{"x":{"field":"x","type":"quantitative"},"y":{"field":"y","type":"quantitative"},"y2":{"field":"y2"}}},
{"data":{"values":[{"x":-0.556,"y":0.00314}]},"mark":{"type":"point","shape":"triangle-down","filled":true,"size":45,"color":"#f02020","opacity":1},
"encoding":{"x":{"field":"x","type":"quantitative"},"y":{"field":"y","type":"quantitative"}}},
{"data":{"values":[{"x":1.097,"y":0.01526,"y2":0.00945}]},"mark":{"type":"rule","color":"#1f9f4a","strokeWidth":1.5},
"encoding":{"x":{"field":"x","type":"quantitative"},"y":{"field":"y","type":"quantitative"},"y2":{"field":"y2"}}},
{"data":{"values":[{"x":1.097,"y":0.00945}]},"mark":{"type":"point","shape":"triangle-down","filled":true,"size":45,"color":"#1f9f4a","opacity":1},
"encoding":{"x":{"field":"x","type":"quantitative"},"y":{"field":"y","type":"quantitative"}}}
]},
{"width":214,"height":235,"view":{"stroke":null},
"layer":[
{"data":{"name":"g"},"transform":[{"filter":"datum.v >= -0.84 && datum.v <= 0.04"}],"mark":{"type":"line","strokeWidth":2.6,"clip":true,"interpolate":"monotone"},
"encoding":{
"x":{"field":"v","type":"quantitative","scale":{"domain":[-0.81,0],"nice":false,"zero":false},"axis":{"values":[-0.75,-0.5,-0.25,0],"format":".2f","title":"Voltage (V)","labelFontSize":14,"titleFontSize":20,"tickSize":3,"labelPadding":2,"titleY":22,"offset":-63}},
"y":{"field":"g","type":"quantitative","scale":{"domain":[-0.01299,0.028],"nice":false,"zero":false},"axis":{"values":[0,0.01,0.02],"format":".2f","title":"dI/dV (nS)","labelFontSize":14,"titleFontSize":20,"tickSize":3,"labelPadding":1,"titleX":-41,"titleY":92}},
"color":{"field":"b","type":"nominal","scale":{"domain":[0,1,2,3,4,5,6,7],"range":["#ff00ff","#1ec8c8","#c8961e","#a96fdc","#27a35a","#1f6be0","#f42a2a","#404040"]},"legend":null}
}},
{"data":{"values":[{"x":-0.81,"x2":0,"y":-0.002,"y2":0.028}]},"mark":{"type":"rect","filled":false,"stroke":"#444","strokeWidth":1.5},
"encoding":{"x":{"field":"x","type":"quantitative"},"x2":{"field":"x2"},"y":{"field":"y","type":"quantitative"},"y2":{"field":"y2"}}},
{"data":{"values":[{"x":-1.071,"x2":0.0511,"y":-0.00968,"y2":0.02905}]},"mark":{"type":"rect","filled":false,"stroke":"#222","strokeWidth":1.2,"strokeDash":[3,2]},
"encoding":{"x":{"field":"x","type":"quantitative"},"x2":{"field":"x2"},"y":{"field":"y","type":"quantitative"},"y2":{"field":"y2"}}},
{"data":{"values":[{"x":-1.052,"y":0.02495,"t":"(c)"}]},"mark":{"type":"text","align":"left","baseline":"middle","fontSize":23},
"encoding":{"x":{"field":"x","type":"quantitative"},"y":{"field":"y","type":"quantitative"},"text":{"field":"t"}}},
{"data":{"values":[{"x":-0.3255,"y":0.02495,"t":"HOMO"}]},"mark":{"type":"text","align":"center","baseline":"middle","fontSize":22},
"encoding":{"x":{"field":"x","type":"quantitative"},"y":{"field":"y","type":"quantitative"},"text":{"field":"t"}}}
]},
{"width":390,"height":235,
"layer":[
{"data":{"name":"g"},"mark":{"type":"line","strokeWidth":1.6,"clip":true,"interpolate":"monotone"},
"encoding":{
"x":{"field":"v","type":"quantitative","scale":{"domain":[-1.3,1.515],"nice":false,"zero":false},"axis":{"values":[-1,-0.5,0,0.5,1,1.5],"format":".1f","title":"Voltage (V)","tickSize":4,"labelPadding":3,"titleY":31}},
"y":{"field":"g","type":"quantitative","scale":{"domain":[-0.005,0.1],"nice":false,"zero":false},"axis":{"values":[0,0.02,0.04,0.06,0.08],"format":".2f","title":"dI/dV (nS)","tickSize":4,"labelPadding":1,"titleX":-49,"titleY":122}},
"color":{"field":"b","type":"nominal","scale":{"domain":[0,1,2,3,4,5,6,7],"range":["#ff00ff","#1ec8c8","#c8961e","#a96fdc","#27a35a","#1f6be0","#f42a2a","#404040"]},"legend":null}
}},
{"data":{"values":[{"x":-0.783,"x2":-0.285,"y":-0.0009,"y2":0.0322}]},"mark":{"type":"rect","filled":false,"stroke":"#222","strokeWidth":1.3,"strokeDash":[3,2]},
"encoding":{"x":{"field":"x","type":"quantitative"},"x2":{"field":"x2"},"y":{"field":"y","type":"quantitative"},"y2":{"field":"y2"}}},
{"data":{"values":[{"x":0.8,"x2":1.29,"y":0.0018,"y2":0.0349}]},"mark":{"type":"rect","filled":false,"stroke":"#f07a3a","strokeWidth":1.3,"strokeDash":[3,2]},
"encoding":{"x":{"field":"x","type":"quantitative"},"x2":{"field":"x2"},"y":{"field":"y","type":"quantitative"},"y2":{"field":"y2"}}},
{"data":{"values":[{"x":-0.282,"y":0.0321,"x2":1.855,"y2":0.1131}]},"mark":{"type":"rule","color":"#000","strokeWidth":1.2},
"encoding":{"x":{"field":"x","type":"quantitative"},"x2":{"field":"x2"},"y":{"field":"y","type":"quantitative"},"y2":{"field":"y2"}}},
{"data":{"values":[{"x":1.292,"y":0.0084,"x2":1.785,"y2":0.0186}]},"mark":{"type":"rule","color":"#f07030","strokeWidth":1.2},
"encoding":{"x":{"field":"x","type":"quantitative"},"x2":{"field":"x2"},"y":{"field":"y","type":"quantitative"},"y2":{"field":"y2"}}},
{"data":{"values":[{"x":1.855,"y":0.1131}]},"mark":{"type":"point","shape":"triangle","filled":true,"size":40,"angle":58.5,"color":"#000","opacity":1},
"encoding":{"x":{"field":"x","type":"quantitative"},"y":{"field":"y","type":"quantitative"}}},
{"data":{"values":[{"x":1.785,"y":0.0186}]},"mark":{"type":"point","shape":"triangle","filled":true,"size":40,"angle":71.6,"color":"#f07030","opacity":1},
"encoding":{"x":{"field":"x","type":"quantitative"},"y":{"field":"y","type":"quantitative"}}},
{"data":{"values":[{"x":-2.0365,"y":0.0877,"t":"(b)"}]},"mark":{"type":"text","align":"left","baseline":"middle","fontSize":25},
"encoding":{"x":{"field":"x","type":"quantitative"},"y":{"field":"y","type":"quantitative"},"text":{"field":"t"}}}
]},
{"width":223,"height":200,"view":{"stroke":null},
"layer":[
{"data":{"name":"g"},"transform":[{"filter":"datum.v >= 0.705 && datum.v <= 1.32"}],"mark":{"type":"line","strokeWidth":2.6,"clip":true,"interpolate":"monotone"},
"encoding":{
"x":{"field":"v","type":"quantitative","scale":{"domain":[0.683,1.303],"nice":false,"zero":false},"axis":{"values":[0.75,1,1.25],"format":".2f","title":"Voltage (V)","labelFontSize":14,"titleFontSize":20,"tickSize":3,"labelPadding":3,"titleY":22}},
"y":{"field":"g","type":"quantitative","scale":{"domain":[-0.0024,0.04169],"nice":false,"zero":false},"axis":{"values":[0,0.01,0.02,0.03],"format":".2f","title":"dI/dV (nS)","labelFontSize":14,"titleFontSize":20,"tickSize":3,"labelPadding":2,"titleX":-41,"titleY":120,"offset":-10}},
"color":{"field":"b","type":"nominal","scale":{"domain":[0,1,2,3,4,5,6,7],"range":["#ff00ff","#1ec8c8","#c8961e","#a96fdc","#27a35a","#1f6be0","#f42a2a","#404040"]},"legend":null}
}},
{"data":{"values":[{"x":0.683,"x2":1.303,"y":0.0353,"y2":0.04169}]},"mark":{"type":"rect","fill":"white","stroke":null,"opacity":1},
"encoding":{"x":{"field":"x","type":"quantitative"},"x2":{"field":"x2"},"y":{"field":"y","type":"quantitative"},"y2":{"field":"y2"}}},
{"data":{"values":[{"x":0.7108,"x2":1.303,"y":-0.0024,"y2":0.0353}]},"mark":{"type":"rect","filled":false,"stroke":"#444","strokeWidth":1.5},
"encoding":{"x":{"field":"x","type":"quantitative"},"x2":{"field":"x2"},"y":{"field":"y","type":"quantitative"},"y2":{"field":"y2"}}},
{"data":{"values":[{"x":0.4912,"x2":1.3169,"y":-0.01298,"y2":0.03817}]},"mark":{"type":"rect","filled":false,"stroke":"#f07a3a","strokeWidth":1.2,"strokeDash":[3,2]},
"encoding":{"x":{"field":"x","type":"quantitative"},"x2":{"field":"x2"},"y":{"field":"y","type":"quantitative"},"y2":{"field":"y2"}}},
{"data":{"values":[{"x":0.4967,"y":0.032,"t":"(d)"}]},"mark":{"type":"text","align":"left","baseline":"middle","fontSize":23},
"encoding":{"x":{"field":"x","type":"quantitative"},"y":{"field":"y","type":"quantitative"},"text":{"field":"t"}}},
{"data":{"values":[{"x":0.9527,"y":0.03166,"t":"LUMO"}]},"mark":{"type":"text","align":"center","baseline":"middle","fontSize":22},
"encoding":{"x":{"field":"x","type":"quantitative"},"y":{"field":"y","type":"quantitative"},"text":{"field":"t"}}}
]}
]
}
